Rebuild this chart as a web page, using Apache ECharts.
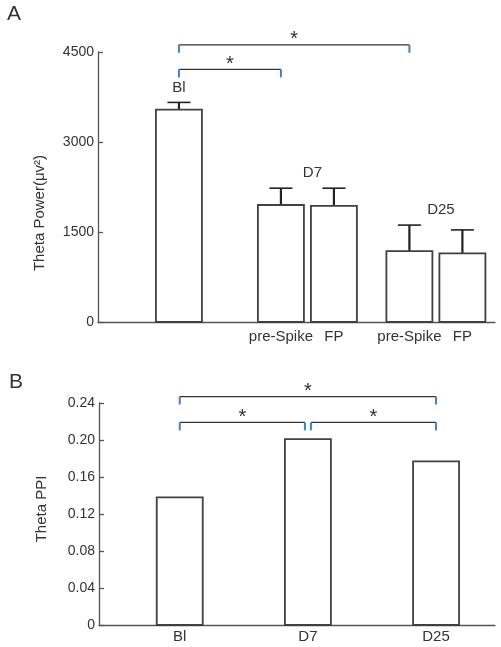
<!DOCTYPE html>
<html><head><meta charset="utf-8">
<script src="https://cdn.jsdelivr.net/npm/echarts@6/dist/echarts.min.js"></script>
<style>html,body{margin:0;padding:0;background:#fff}#c{width:501px;height:647px}</style>
</head><body><div id="c"></div>
<script>
// ---------- data ----------
const groups = ['Bl', 'D7', 'D25'];
// Panel A: theta power
const powerBarGroup = ['Bl', 'D7', 'D7', 'D25', 'D25'];
const powerBarLabel = ['', 'pre-Spike', 'FP', 'pre-Spike', 'FP'];
const powerMean = [3540, 1950, 1935, 1180, 1145];
const powerErr = [120, 280, 295, 435, 390];
const powerTicks = [0, 1500, 3000, 4500];
const powerSigPairs = [[0, 1], [0, 3]];     // bar index pairs
const powerSigLevel = [4210, 4620];
// Panel B: theta PPI
const ppiMean = [0.138, 0.201, 0.177];
const ppiTicks = [0, 0.04, 0.08, 0.12, 0.16, 0.20, 0.24];
const ppiSigPairs = [[0, 1], [1, 2], [0, 2]];
const ppiSigLevel = [0.219, 0.219, 0.247];

// ---------- style ----------
const FONT = 'Liberation Sans, Arial, sans-serif';
const TXT = '#333';
const AX = '#555';
const BLUE = '#3a84c6';
const BAR_STROKE = '#404040';
const barW = 46, barGap = 7;

const chart = echarts.init(document.getElementById('c'));

const powerItems = powerMean.map((m, i) => {
  const g = groups.indexOf(powerBarGroup[i]);
  const members = powerBarGroup.map((x, j) => x === powerBarGroup[i] ? j : -1).filter(j => j >= 0);
  return [g, m, powerErr[i], members.indexOf(i), members.length, i];
});
const groupTop = groups.map(gn => {
  let t = 0;
  powerBarGroup.forEach((x, j) => { if (x === gn) t = Math.max(t, powerMean[j] + powerErr[j]); });
  return t;
});
function powerCenterX(i, api) {
  const it = powerItems[i];
  const base = api.coord([it[0], 0]);
  return base[0] + (it[3] - (it[4] - 1) / 2) * (barW + barGap);
}
function ppiCenterX(i, api) { return api.coord([i, 0])[0]; }

function sharedInfo(pairs, levels) {
  return pairs.map((p, k) => {
    let r = null;
    pairs.forEach((q, m) => {
      if (m === k || levels[m] !== levels[k]) return;
      if (q[0] === p[1]) r = 'end';
      if (q[1] === p[0]) r = 'start';
    });
    return r;
  });
}
function makeBracket(shared, centerFn) {
  return function (params, api) {
    const a = api.value(0), b = api.value(1), lvl = api.value(2);
    const y = api.coord([0, lvl])[1];
    let x1 = centerFn(a, api), x2 = centerFn(b, api);
    if (shared[params.dataIndex] === 'end') x2 -= 3;
    if (shared[params.dataIndex] === 'start') x1 += 3;
    return { type: 'group', children: [
      { type: 'line', shape: { x1: x1, y1: y, x2: x2, y2: y }, style: { stroke: '#333', lineWidth: 1.2 } },
      { type: 'line', shape: { x1: x1, y1: y, x2: x1, y2: y + 8 }, style: { stroke: BLUE, lineWidth: 2 } },
      { type: 'line', shape: { x1: x2, y1: y, x2: x2, y2: y + 8 }, style: { stroke: BLUE, lineWidth: 2 } },
      { type: 'text', x: (x1 + x2) / 2, y: y - 15, style: { text: '*', font: '20px ' + FONT, fill: TXT, align: 'center', verticalAlign: 'top' } }
    ] };
  };
}

const xAxisCommon = {
  type: 'value', min: -0.63, max: 2.46,
  axisLine: { show: true, onZero: false, lineStyle: { color: AX, width: 1.3 } },
  axisTick: { show: false }, axisLabel: { show: false }, splitLine: { show: false }
};
const yAxisCommon = {
  type: 'value',
  axisLine: { show: true, onZero: false, lineStyle: { color: AX, width: 1.3 } },
  axisTick: { show: true, inside: true, length: 5, lineStyle: { color: AX, width: 1.3 } },
  axisLabel: { color: TXT, fontSize: 14, fontFamily: FONT, margin: 4 },
  splitLine: { show: false }
};

chart.setOption({
  animation: false,
  backgroundColor: '#fff',
  grid: [
    { left: 98, right: 6, top: 52, height: 270 },
    { left: 99, right: 6, top: 403, height: 222 }
  ],
  xAxis: [
    Object.assign({ gridIndex: 0 }, xAxisCommon),
    Object.assign({ gridIndex: 1 }, xAxisCommon)
  ],
  yAxis: [
    Object.assign({}, yAxisCommon, {
      gridIndex: 0, min: powerTicks[0], max: powerTicks[powerTicks.length - 1],
      interval: powerTicks[1] - powerTicks[0],
      axisLabel: Object.assign({}, yAxisCommon.axisLabel, { formatter: v => String(v) })
    }),
    Object.assign({}, yAxisCommon, {
      gridIndex: 1, min: ppiTicks[0], max: ppiTicks[ppiTicks.length - 1],
      interval: 0.04,
      axisLabel: Object.assign({}, yAxisCommon.axisLabel, {
        formatter: v => (Math.abs(v) < 1e-9 ? '0' : v.toFixed(2))
      })
    })
  ],
  graphic: [
    { type: 'text', left: 7, top: 4, style: { text: 'A', font: '21px ' + FONT, fill: TXT } },
    { type: 'text', left: 9, top: 372, style: { text: 'B', font: '21px ' + FONT, fill: TXT } },
    { type: 'text', x: 40, y: 213, rotation: Math.PI / 2,
      style: { text: 'Theta Power(μv²)', font: '15px ' + FONT, fill: TXT, align: 'center', verticalAlign: 'middle' } },
    { type: 'text', x: 42, y: 509, rotation: Math.PI / 2,
      style: { text: 'Theta PPI', font: '15px ' + FONT, fill: TXT, align: 'center', verticalAlign: 'middle' } }
  ],
  series: [
    {
      type: 'custom', xAxisIndex: 0, yAxisIndex: 0, clip: false,
      encode: { x: 0, y: 1 },
      data: powerItems,
      renderItem: function (params, api) {
        const g = api.value(0), m = api.value(1), e = api.value(2), k = api.value(3), n = api.value(4), i = api.value(5);
        const base = api.coord([g, 0]);
        const cx = powerCenterX(i, api);
        const top = api.coord([g, m])[1];
        const cap = api.coord([g, m + e])[1];
        const ch = [
          { type: 'line', shape: { x1: cx, y1: top, x2: cx, y2: cap }, style: { stroke: '#222', lineWidth: 2.2 } },
          { type: 'line', shape: { x1: cx - 11.5, y1: cap, x2: cx + 11.5, y2: cap }, style: { stroke: '#222', lineWidth: 1.6 } },
          { type: 'rect', shape: { x: cx - barW / 2, y: top, width: barW, height: base[1] - top },
            style: { fill: '#fff', stroke: BAR_STROKE, lineWidth: 1.8 } }
        ];
        if (powerBarLabel[i]) {
          ch.push({ type: 'text', x: cx, y: base[1] + 15,
            style: { text: powerBarLabel[i], font: '15px ' + FONT, fill: TXT, align: 'center', verticalAlign: 'middle' } });
        }
        if (k === 0) {
          const ty = api.coord([g, groupTop[g]])[1] - 15;
          ch.push({ type: 'text', x: base[0] + (n > 1 ? 5 : 0), y: ty,
            style: { text: groups[g], font: '15px ' + FONT, fill: TXT, align: 'center', verticalAlign: 'middle' } });
        }
        return { type: 'group', children: ch };
      }
    },
    {
      type: 'custom', xAxisIndex: 0, yAxisIndex: 0, clip: false,
      encode: { y: 2 },
      data: powerSigPairs.map((p, k) => [p[0], p[1], powerSigLevel[k]]),
      renderItem: makeBracket(sharedInfo(powerSigPairs, powerSigLevel), powerCenterX)
    },
    {
      type: 'custom', xAxisIndex: 1, yAxisIndex: 1, clip: false,
      encode: { x: 0, y: 1 },
      data: ppiMean.map((v, i) => [i, v]),
      renderItem: function (params, api) {
        const i = api.value(0), v = api.value(1);
        const base = api.coord([i, 0]);
        const top = api.coord([i, v])[1];
        return { type: 'group', children: [
          { type: 'rect', shape: { x: base[0] - barW / 2, y: top, width: barW, height: base[1] - top },
            style: { fill: '#fff', stroke: BAR_STROKE, lineWidth: 1.8 } },
          { type: 'text', x: base[0], y: base[1] + 12,
            style: { text: groups[i], font: '15px ' + FONT, fill: TXT, align: 'center', verticalAlign: 'middle' } }
        ] };
      }
    },
    {
      type: 'custom', xAxisIndex: 1, yAxisIndex: 1, clip: false,
      encode: { y: 2 },
      data: ppiSigPairs.map((p, k) => [p[0], p[1], ppiSigLevel[k]]),
      renderItem: makeBracket(sharedInfo(ppiSigPairs, ppiSigLevel), ppiCenterX)
    }
  ]
});
</script>
</body></html>
